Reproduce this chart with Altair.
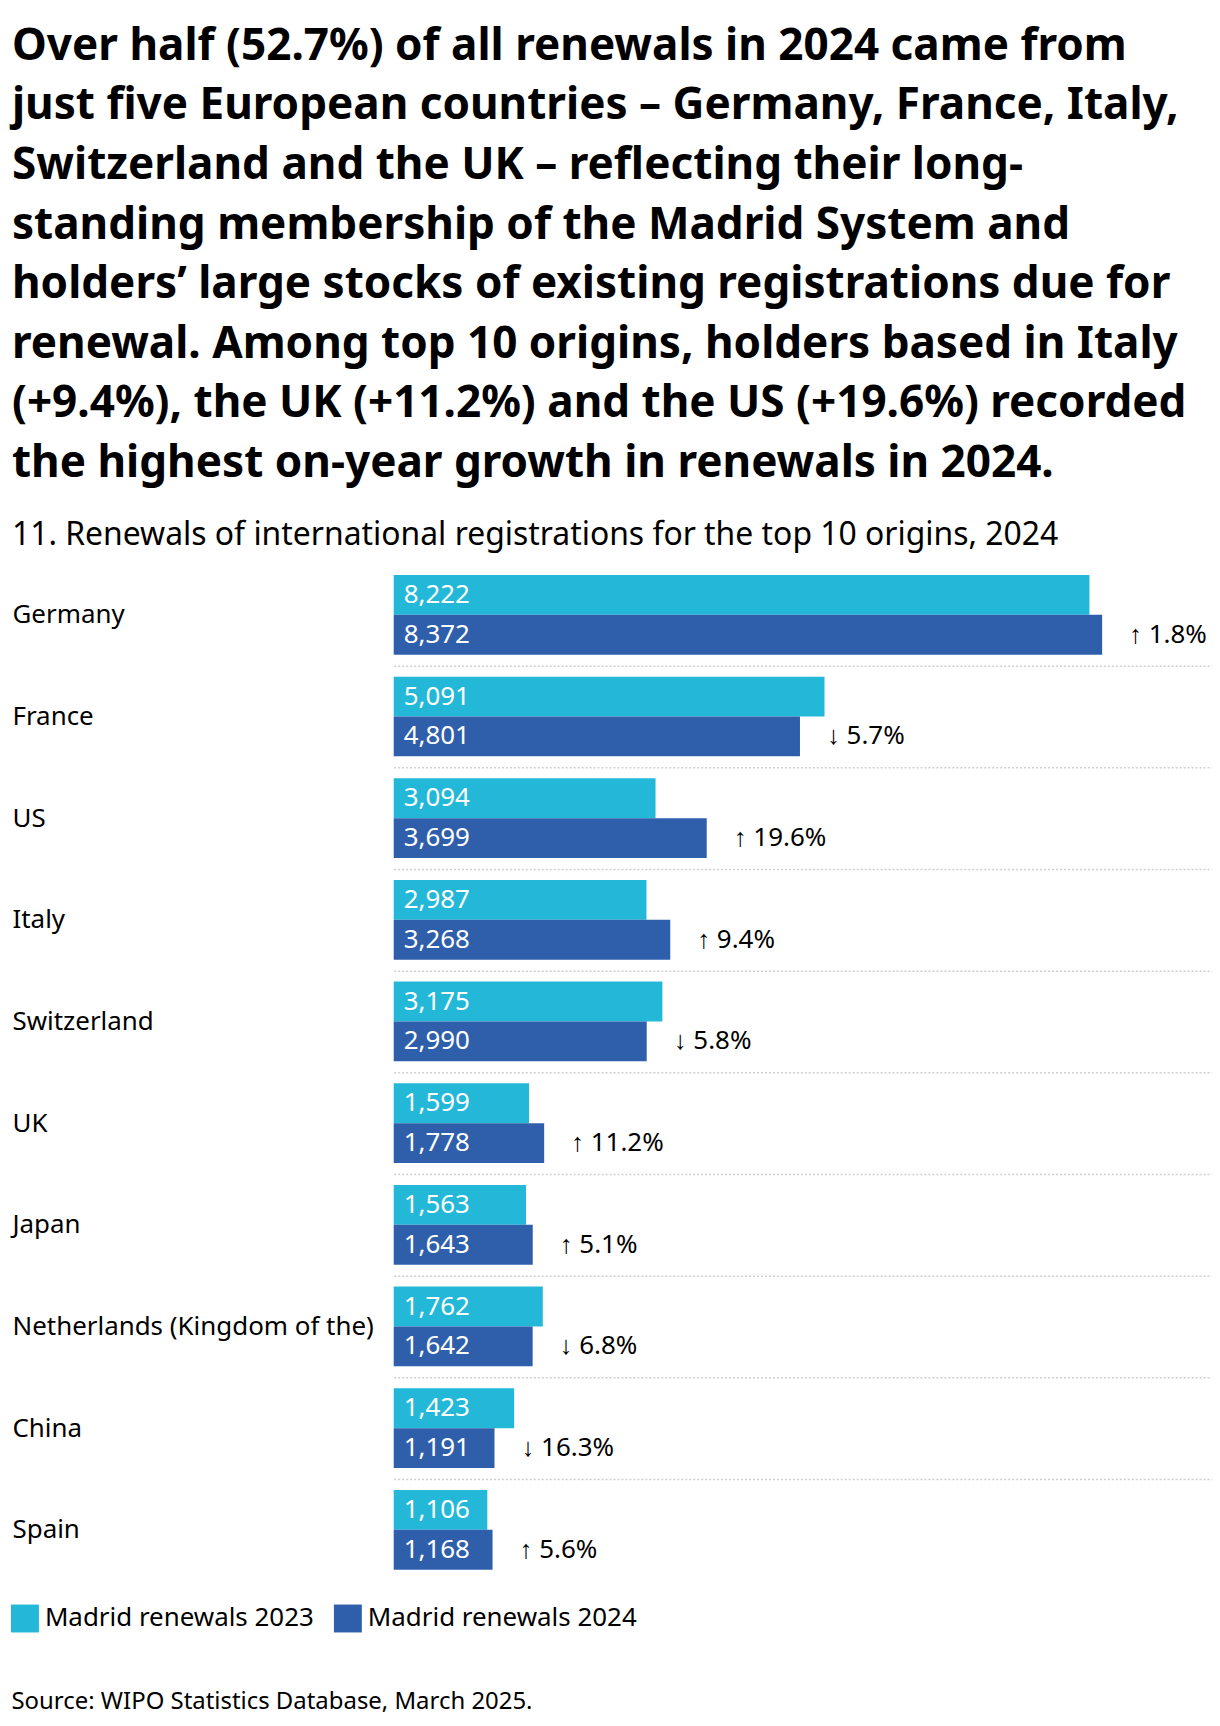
import altair as alt
import pandas as pd

countries = ["Germany", "France", "US", "Italy", "Switzerland", "UK", "Japan",
             "Netherlands (Kingdom of the)", "China", "Spain"]
renewals_2023 = [8222, 5091, 3094, 2987, 3175, 1599, 1563, 1762, 1423, 1106]
renewals_2024 = [8372, 4801, 3699, 3268, 2990, 1778, 1643, 1642, 1191, 1168]
growth_labels = ["↑ 1.8%", "↓ 5.7%", "↑ 19.6%", "↑ 9.4%", "↓ 5.8%", "↑ 11.2%",
                 "↑ 5.1%", "↓ 6.8%", "↓ 16.3%", "↑ 5.6%"]
series = ["Madrid renewals 2023", "Madrid renewals 2024"]
colors = ["#24B8D8", "#2F5FAB"]

title_lines = [
    "Over half (52.7%) of all renewals in 2024 came from",
    "just five European countries – Germany, France, Italy,",
    "Switzerland and the UK – reflecting their long-",
    "standing membership of the Madrid System and",
    "holders’ large stocks of existing registrations due for",
    "renewal. Among top 10 origins, holders based in Italy",
    "(+9.4%), the UK (+11.2%) and the US (+19.6%) recorded",
    "the highest on-year growth in renewals in 2024.",
]
subtitle = "11. Renewals of international registrations for the top 10 origins, 2024"
source = "Source: WIPO Statistics Database, March 2025."

rows = []
for c, a, b in zip(countries, renewals_2023, renewals_2024):
    rows.append({"country": c, "series": series[0], "value": a})
    rows.append({"country": c, "series": series[1], "value": b})
df = pd.DataFrame(rows)
df["label"] = df["value"].map(lambda v: f"{v:,}")

gdf = pd.DataFrame({"country": countries, "series": series[1],
                    "value": renewals_2024, "growth": growth_labels})

FONT = "Noto Sans"
xscale = alt.Scale(domain=[0, 10000], range=[383, 1232], zero=True)
yscale = alt.Scale(domain=countries, paddingInner=22 / 102, paddingOuter=11 / 102)
offscale = alt.Scale(domain=series)

y_enc = alt.Y(
    "country:N", scale=yscale, sort=countries,
    axis=alt.Axis(
        title=None, domain=False, ticks=False, tickSize=0, labelPadding=0,
        labelAlign="left", labelFont=FONT, labelFontSize=26, labelColor="#000",
        labelLimit=500, grid=True, gridColor="#cfcfcf",
        gridDash=[2, 2], gridWidth=1.5, tickOffset=51, labelOffset=-51,
        gridOpacity={"condition": {"test": "datum.value === 'Spain'", "value": 0}, "value": 1},
    ),
)
x_enc = alt.X(
    "value:Q", scale=xscale,
    axis=alt.Axis(
        labels=False, ticks=False, domain=False, grid=False, title=source,
        titleFont=FONT, titleFontSize=24, titleFontWeight="normal", titleColor="#000",
        titleAlign="left", titleAnchor="start", titleX=-1, titleY=128,
        titleBaseline="alphabetic",
    ),
)

bars = alt.Chart(df).mark_bar().encode(
    x=x_enc,
    y=y_enc,
    yOffset=alt.YOffset("series:N", scale=offscale, sort=series),
    color=alt.Color(
        "series:N", scale=alt.Scale(domain=series, range=colors),
        legend=alt.Legend(
            title=None, orient="none", legendX=-1, legendY=1044, direction="horizontal",
            symbolType="square", symbolSize=784, symbolStrokeWidth=0, symbolOpacity=1,
            labelFont=FONT, labelFontSize=26, labelColor="#000", labelOffset=6,
            columnPadding=20, padding=0, labelLimit=400,
        ),
    ),
)

values = alt.Chart(df).mark_text(
    align="left", baseline="middle", dx=10, color="white", font=FONT, fontSize=26
).encode(
    x=alt.X("zero:Q", scale=xscale),
    y=alt.Y("country:N", scale=yscale, sort=countries),
    yOffset=alt.YOffset("series:N", scale=offscale, sort=series),
    text="label:N",
).transform_calculate(zero="0")

growth = alt.Chart(gdf).mark_text(
    align="left", baseline="middle", dx=27, color="#000", font=FONT, fontSize=26
).encode(
    x=alt.X("value:Q", scale=xscale),
    y=alt.Y("country:N", scale=yscale, sort=countries),
    yOffset=alt.YOffset("series:N", scale=offscale, sort=series),
    text="growth:N",
)

chart = alt.layer(bars, values, growth).properties(
    width=1196,
    height=1020,
    background="white",
    autosize=alt.AutoSizeParams(type="none"),
    padding={"left": 4, "top": 555, "right": 8, "bottom": 143},
    title=alt.TitleParams(
        text=title_lines, subtitle=subtitle, anchor="start", frame="group",
        font=FONT, fontSize=44.2, fontWeight="bold", color="#000", lineHeight=59.8,
        subtitleFont=FONT, subtitleFontSize=32, subtitleColor="#000",
        subtitlePadding=34, offset=13,
    ),
).configure_view(strokeWidth=0)

chart.save("out.html", embed_options={"renderer": "svg", "actions": False})
